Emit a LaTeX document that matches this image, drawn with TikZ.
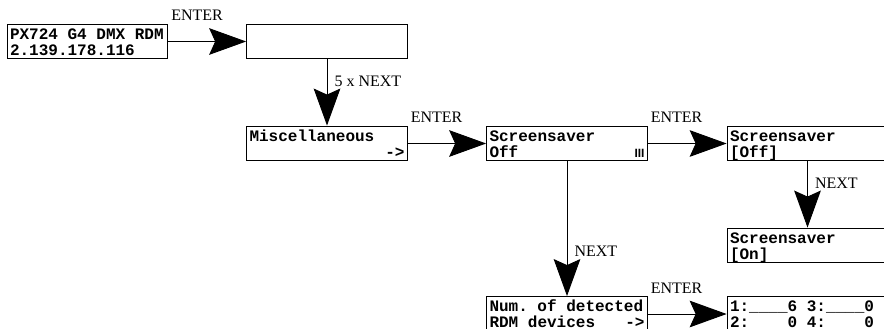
\documentclass[tikz,border=0pt]{standalone}
\usepackage{fontspec}
\setmainfont{Liberation Serif}
\newfontfamily\lcdfont{Liberation Mono}
\newfontfamily\iconfont{Liberation Sans}
\usetikzlibrary{arrows.meta}
\newcommand{\lcdlines}[2]% first line, second line
{\rule{0pt}{11.25pt}#1\\\relax#2\rule[-2.75pt]{0pt}{2.75pt}}
\newcommand{\lcdgap}[1][1]{\hspace*{#1\dimexpr7.2pt\relax}}% empty LCD cells
\newcommand{\barsicon}{{\iconfont\bfseries\fontsize{9}{10}\selectfont III}}

\begin{document}
\begin{tikzpicture}[x=0.75pt,y=-0.75pt]
\tikzset{
  lcd/.style={draw,line width=0.9pt,rectangle,minimum width=120.4pt,minimum height=26pt,
    text width=116.25pt,inner xsep=2.07pt,inner ysep=0pt,align=left,
    font=\lcdfont\bfseries\fontsize{12}{12}\selectfont},
  flow/.style={line width=0.7pt,-{Stealth[length=27.75pt,width=20pt,inset=4.5pt]}},
  key/.style={font=\fontsize{12}{14}\selectfont,inner sep=0pt,anchor=base west}
}
\useasboundingbox (0,0) rectangle (884,328);
\clip (0,0) rectangle (884,328);
% displays
\node[lcd] (b1) at (87.5,41.5) {\lcdlines{PX724\lcdgap G4\lcdgap DMX\lcdgap RDM}{2.139.178.116}};
\node[lcd] (b2) at (327,41.5) {\lcdlines{}{}};
\node[lcd] (b3) at (327,143.5) {\lcdlines{Miscellaneous}{\hfill->}};
\node[lcd] (b4) at (567,143.5) {\lcdlines{Screensaver}{Off\hfill\barsicon}};
\node[lcd] (b5) at (807.5,143.5) {\lcdlines{Screensaver}{[Off]}};
\node[lcd] (b6) at (807.5,245.5) {\lcdlines{Screensaver}{[On]}};
\node[lcd] (b7) at (567,314) {\lcdlines{Num.\lcdgap of\lcdgap detected}{RDM\lcdgap devices\hfill->}};
\node[lcd] (b8) at (807.5,314) {\lcdlines{1:\_\_\_\_6\lcdgap 3:\_\_\_\_0}{2:\lcdgap[4]0\lcdgap 4:\lcdgap[4]0}};
% key labels
\node[key] (k1) at ([xshift=2pt,yshift=2.25pt]b1.north east) {ENTER};
\node[key] (k2) at ([xshift=5.5pt,yshift=29.5pt]b3.north) {5 x NEXT};
\node[key] (k3) at ([xshift=2pt,yshift=2.25pt]b3.north east) {ENTER};
\node[key] (k4) at ([xshift=2pt,yshift=2.25pt]b4.north east) {ENTER};
\node[key] (k5) at ([xshift=5.5pt,yshift=29.5pt]b6.north) {NEXT};
\node[key] (k6) at ([xshift=5.5pt,yshift=29.5pt]b7.north) {NEXT};
\node[key] (k7) at ([xshift=2pt,yshift=2.25pt]b7.north east) {ENTER};
% transitions
\draw[flow] (b1) -- (b2);
\draw[flow] (b2) -- (b3);
\draw[flow] (b3) -- (b4);
\draw[flow] (b4) -- (b5);
\draw[flow] (b5) -- (b6);
\draw[flow] (b4) -- (b7);
\draw[flow] (b7) -- (b8);
\end{tikzpicture}
\end{document}
